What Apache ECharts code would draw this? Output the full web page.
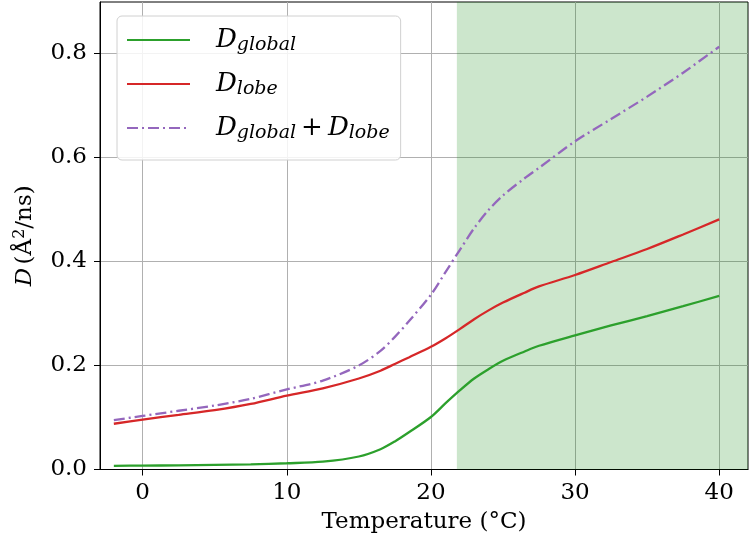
<!DOCTYPE html>
<html>
<head>
<meta charset="utf-8">
<script src="https://cdn.jsdelivr.net/npm/echarts@6/dist/echarts.min.js"></script>
<style>html,body{margin:0;padding:0;background:#fff}#c{width:750px;height:546px}</style>
</head>
<body>
<div id="c"></div>
<script>
// Temperatures (°C)
const temps = [-2, 0, 2.5, 5, 7.5, 10, 12.5, 15, 16.5, 17.5, 18.5, 20, 21, 22, 23, 24, 25, 26.5, 27.5, 30, 32.5, 35, 37.5, 40];
// D_global (Å^2/ns)
const dGlobal = [0.007, 0.0075, 0.008, 0.009, 0.010, 0.012, 0.015, 0.025, 0.039, 0.054, 0.072, 0.101, 0.127, 0.152, 0.175, 0.193, 0.209, 0.227, 0.238, 0.258, 0.277, 0.295, 0.314, 0.334];
// D_lobe
const dLobe = [0.088, 0.096, 0.105, 0.114, 0.126, 0.142, 0.156, 0.175, 0.190, 0.203, 0.216, 0.236, 0.252, 0.270, 0.289, 0.306, 0.321, 0.340, 0.352, 0.374, 0.399, 0.424, 0.452, 0.481];
// D_global + D_lobe
const dSum = [0.095, 0.103, 0.113, 0.123, 0.136, 0.154, 0.171, 0.200, 0.228, 0.255, 0.286, 0.336, 0.379, 0.422, 0.464, 0.499, 0.527, 0.560, 0.580, 0.631, 0.674, 0.717, 0.763, 0.813];
// shaded temperature range
const shadeRange = [21.8, 42];
// tick values
const xTicks = [0, 10, 20, 30, 40];
const yTicks = [0, 0.2, 0.4, 0.6, 0.8];
const seriesNames = ['D_global', 'D_lobe', 'D_global + D_lobe'];

const FONT = 'DejaVu Serif';
const pair = arr => temps.map((t, i) => [t, arr[i]]);

const legendRich = {
  d0: {fontFamily: FONT, fontStyle: 'italic', fontSize: 26, lineHeight: 30, padding: [0, 0, 0, 21], color: '#000'},
  d: {fontFamily: FONT, fontStyle: 'italic', fontSize: 26, lineHeight: 30, color: '#000'},
  s: {fontFamily: FONT, fontStyle: 'italic', fontSize: 19, lineHeight: 18, verticalAlign: 'bottom', color: '#000'},
  p: {fontFamily: FONT, fontSize: 26, lineHeight: 30, padding: [0, 5, 0, 5], color: '#000'}
};
const legendText = {
  'D_global': '{d0|D}{s|global}',
  'D_lobe': '{d0|D}{s|lobe}',
  'D_global + D_lobe': '{d0|D}{s|global}{p|+}{d|D}{s|lobe}'
};

const chart = echarts.init(document.getElementById('c'), null, {renderer: 'canvas'});
chart.setOption({
  animation: false,
  backgroundColor: '#fff',
  grid: {left: 100, right: 2, top: 2, bottom: 76.5, containLabel: false, outerBoundsMode: 'none',
         show: true, borderColor: '#000', borderWidth: 1},
  xAxis: {
    type: 'value', min: -2.96, max: 42,
    name: 'Temperature (°C)', nameLocation: 'middle', nameGap: 41,
    nameTextStyle: {fontFamily: FONT, fontSize: 23, color: '#000'},
    axisLine: {show: true, onZero: false, lineStyle: {color: '#000', width: 1}},
    axisTick: {show: true, length: 6, inside: false, customValues: xTicks, lineStyle: {color: '#000'}},
    axisLabel: {customValues: xTicks, margin: 12, fontFamily: FONT, fontSize: 23, color: '#000'},
    splitLine: {show: true, lineStyle: {color: '#b0b0b0', width: 1}}
  },
  yAxis: {
    type: 'value', min: 0, max: 0.899,
    name: '{i|D} {r|(Å}{sup|2}{r|/ns)}', nameLocation: 'middle', nameGap: 62, nameRotate: 90,
    nameTextStyle: {
      color: '#000',
      rich: {
        i: {fontFamily: FONT, fontStyle: 'italic', fontSize: 23, lineHeight: 26, color: '#000'},
        r: {fontFamily: FONT, fontSize: 23, lineHeight: 26, color: '#000'},
        sup: {fontFamily: FONT, fontSize: 16, lineHeight: 16, verticalAlign: 'top', color: '#000'}
      }
    },
    axisLine: {show: true, onZero: false, lineStyle: {color: '#000', width: 1}},
    axisTick: {show: true, length: 6, inside: false, customValues: yTicks, lineStyle: {color: '#000'}},
    axisLabel: {customValues: yTicks, margin: 13, fontFamily: FONT, fontSize: 23, color: '#000',
                formatter: v => v.toFixed(1)},
    splitLine: {show: true, lineStyle: {color: '#b0b0b0', width: 1}}
  },
  legend: {
    data: seriesNames,
    orient: 'vertical', left: 117, top: 16,
    padding: [11, 11, 17, 9],
    itemGap: 16, itemWidth: 63, itemHeight: 14,
    backgroundColor: 'rgba(255,255,255,0.85)',
    borderColor: '#d0d0d0', borderWidth: 1, borderRadius: 5,
    itemStyle: {opacity: 0},
    formatter: n => legendText[n],
    textStyle: {rich: legendRich, fontFamily: FONT},
    selectedMode: false
  },
  series: [
    {
      type: 'line', name: '', data: [], z: 1, silent: true,
      markArea: {silent: true, itemStyle: {color: 'rgba(0,128,0,0.2)'},
                 data: [[{xAxis: shadeRange[0]}, {xAxis: shadeRange[1]}]]}
    },
    {type: 'line', name: seriesNames[0], data: pair(dGlobal), smooth: 0.3, symbol: 'none', z: 3,
     color: '#2ca02c', lineStyle: {color: '#2ca02c', width: 2.3}},
    {type: 'line', name: seriesNames[1], data: pair(dLobe), smooth: 0.3, symbol: 'none', z: 3,
     color: '#d62728', lineStyle: {color: '#d62728', width: 2.3}},
    {type: 'line', name: seriesNames[2], data: pair(dSum), smooth: 0.3, symbol: 'none', z: 3,
     color: '#9467bd', lineStyle: {color: '#9467bd', width: 2.3, type: [11, 4, 2, 4]}}
  ]
});
</script>
</body>
</html>
